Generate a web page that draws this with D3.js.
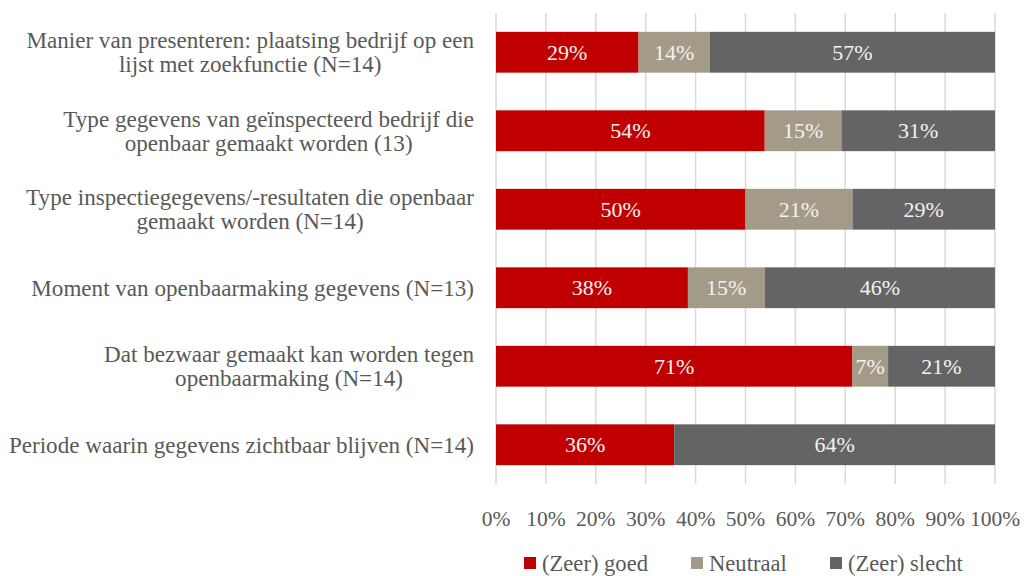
<!DOCTYPE html>
<html>
<head>
<meta charset="utf-8">
<script src="https://cdn.jsdelivr.net/npm/d3@7"></script>
<style>
  html, body { margin: 0; padding: 0; background: #fff; }
  svg { display: block; font-family: "Liberation Serif", "Times New Roman", serif; }
</style>
</head>
<body>
<svg id="chart" width="1024" height="576"></svg>
<script>
// Each category label as its wrapped lines
const categories = [
  ["Manier van presenteren: plaatsing bedrijf op een", "lijst met zoekfunctie (N=14)"],
  ["Type gegevens van geïnspecteerd bedrijf die", "openbaar gemaakt worden (13)"],
  ["Type inspectiegegevens/-resultaten die openbaar", "gemaakt worden (N=14)"],
  ["Moment van openbaarmaking gegevens (N=13)"],
  ["Dat bezwaar gemaakt kan worden tegen", "openbaarmaking (N=14)"],
  ["Periode waarin gegevens zichtbaar blijven (N=14)"]
];

// Shares of respondents per answer (percent)
const goed     = [28.57, 53.85, 50.00, 38.46, 71.43, 35.71];
const neutraal = [14.29, 15.38, 21.43, 15.38,  7.14,  0.00];
const slecht   = [57.14, 30.77, 28.57, 46.15, 21.43, 64.29];

const seriesNames = ["(Zeer) goed", "Neutraal", "(Zeer) slecht"];
const seriesColors = ["#C00000", "#A39A87", "#646464"];
const tickValues = [0, 10, 20, 30, 40, 50, 60, 70, 80, 90, 100];

const rows = categories.map((c, i) => ({ idx: i, values: [goed[i], neutraal[i], slecht[i]] }));

const svg = d3.select("#chart");
const plot = { left: 496, right: 995, top: 13, bottom: 484 };
const textColor = "#595959";
const catFont = 23.1;
const valueFont = 22;
const tickFont = 21.5;
const legendFont = 22.6;

const x = d3.scaleLinear().domain([0, 100]).range([plot.left, plot.right]);
const y = d3.scaleBand().domain(d3.range(categories.length))
  .range([plot.top, plot.bottom]).paddingInner(0.48).paddingOuter(0.24);

// Vertical gridlines
svg.append("g").selectAll("line").data(tickValues).join("line")
  .attr("x1", d => x(d)).attr("x2", d => x(d))
  .attr("y1", plot.top).attr("y2", plot.bottom)
  .attr("stroke", "#D9D9D9").attr("stroke-width", 1.5);

// Stack the series
const stack = d3.stack().keys([0, 1, 2]).value((d, k) => d.values[k]);
const stacked = stack(rows);

const fmt = v => Math.round(v) + "%";

const layers = svg.append("g").selectAll("g").data(stacked).join("g")
  .attr("fill", (d, i) => seriesColors[i]);

layers.selectAll("rect").data(d => d.filter(s => s[1] > s[0])).join("rect")
  .attr("x", s => x(s[0]))
  .attr("width", s => x(s[1]) - x(s[0]))
  .attr("y", s => y(s.data.idx))
  .attr("height", y.bandwidth());

// Value labels inside segments
const labelG = svg.append("g");
stacked.forEach(layer => {
  layer.filter(s => s[1] > s[0]).forEach(s => {
    labelG.append("text")
      .attr("x", (x(s[0]) + x(s[1])) / 2)
      .attr("y", y(s.data.idx) + y.bandwidth() / 2)
      .attr("dy", "0.35em")
      .attr("text-anchor", "middle")
      .attr("fill", "#F2F2F2")
      .attr("font-size", valueFont)
      .text(fmt(s[1] - s[0]));
  });
});

// Category labels: block right-aligned, lines centred within the block
const catG = svg.append("g");
const lineH = 24;
categories.forEach((lines, i) => {
  const g = catG.append("g");
  const texts = lines.map(l => g.append("text")
    .attr("font-size", catFont).attr("fill", textColor)
    .attr("text-anchor", "middle").text(l));
  const maxW = d3.max(texts, t => t.node().getComputedTextLength());
  const cx = 474 - maxW / 2;
  const cy = y(i) + y.bandwidth() / 2;
  texts.forEach((t, j) => {
    t.attr("x", cx)
     .attr("y", cy + (j - (lines.length - 1) / 2) * lineH)
     .attr("dy", "0.35em");
  });
});

// X axis tick labels
svg.append("g").selectAll("text").data(tickValues).join("text")
  .attr("x", d => x(d)).attr("y", 518).attr("dy", "0.35em")
  .attr("text-anchor", "middle")
  .attr("font-size", tickFont).attr("fill", textColor)
  .text(d => d + "%");

// Legend
const legendX = [524, 691, 830];
const legend = svg.append("g").selectAll("g").data(seriesNames).join("g")
  .attr("transform", (d, i) => `translate(${legendX[i]},563)`);
legend.append("rect").attr("x", 0).attr("y", -6).attr("width", 12).attr("height", 12)
  .attr("fill", (d, i) => seriesColors[i]);
legend.append("text").attr("x", 18).attr("dy", "0.35em")
  .attr("font-size", legendFont).attr("fill", textColor).text(d => d);
</script>
</body>
</html>
